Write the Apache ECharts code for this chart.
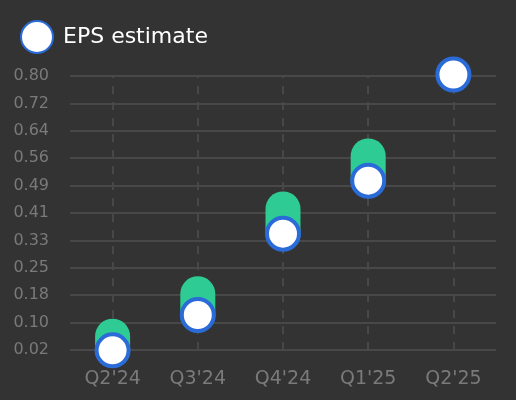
<!DOCTYPE html>
<html>
<head>
<meta charset="utf-8">
<script src="https://cdn.jsdelivr.net/npm/echarts@6/dist/echarts.min.js"></script>
<style>
  html, body { margin: 0; padding: 0; background: #333333; }
  #chart { width: 516px; height: 400px; }
</style>
</head>
<body>
<div id="chart"></div>
<script>
// quarters on the x axis
var quarters = ["Q2'24", "Q3'24", "Q4'24", "Q1'25", "Q2'25"];
// EPS estimate per quarter (white dots)
var epsEstimate = [0.02, 0.12, 0.35, 0.50, 0.80];
// reported EPS per quarter (green pills), none yet for Q2'25
var epsActual = [0.06, 0.18, 0.42, 0.57, null];
// y axis range, ten equal steps
var yMin = 0.021;
var yMax = 0.796;
var yStep = 0.0775;

var GREEN = '#2ecc94';
var BLUE = '#2a6bd8';

var pills = [];
for (var i = 0; i < quarters.length; i++) {
  if (epsActual[i] != null) pills.push([i, epsEstimate[i], epsActual[i]]);
}

var chart = echarts.init(document.getElementById('chart'));

var option = {
  backgroundColor: '#333333',
  textStyle: { fontFamily: 'DejaVu Sans' },
  animation: false,
  legend: {
    data: ['EPS estimate'],
    left: 20,
    top: 20,
    padding: 0,
    itemWidth: 32,
    itemHeight: 32,
    icon: 'circle',
    textStyle: { color: '#ffffff', fontSize: 22, padding: [0, 0, 0, 5] }
  },
  grid: { left: 70, right: 20, top: 76, bottom: 50 },
  xAxis: {
    type: 'category',
    data: quarters,
    axisLine: { show: false },
    axisTick: { show: false },
    axisLabel: { color: '#7a7a7a', fontSize: 19, margin: 20 },
    splitLine: { show: false }
  },
  yAxis: {
    type: 'value',
    min: yMin,
    max: yMax,
    interval: yStep,
    axisLine: { show: false },
    axisTick: { show: false },
    axisLabel: {
      color: '#7a7a7a',
      fontSize: 16,
      margin: 21,
      formatter: function (v) { return v.toFixed(2); }
    },
    splitLine: { lineStyle: { color: '#484848', width: 2 } }
  },
  series: [
    {
      // only carries the dashed quarter guides
      name: 'guides',
      type: 'line',
      z: 1,
      data: [],
      markLine: {
        silent: true,
        z: 1,
        symbol: 'none',
        label: { show: false },
        lineStyle: { color: '#484848', width: 2, type: [8, 8] },
        data: quarters.map(function (q) { return { xAxis: q }; })
      }
    },
    {
      name: 'EPS actual',
      type: 'custom',
      z: 5,
      data: pills,
      renderItem: function (params, api) {
        var top = api.coord([api.value(0), api.value(2)]);
        var bot = api.coord([api.value(0), api.value(1)]);
        var r = 17.5;
        return {
          type: 'rect',
          shape: { x: top[0] - r, y: top[1] - r, width: r * 2, height: bot[1] - top[1] + r * 2, r: r },
          style: { fill: GREEN }
        };
      }
    },
    {
      name: 'EPS estimate',
      type: 'scatter',
      z: 10,
      clip: false,
      symbolSize: 32,
      itemStyle: { color: '#ffffff', borderColor: BLUE, borderWidth: 4, opacity: 1 },
      data: epsEstimate.map(function (v, i) { return [i, v]; })
    }
  ]
};

chart.setOption(option);
</script>
</body>
</html>
